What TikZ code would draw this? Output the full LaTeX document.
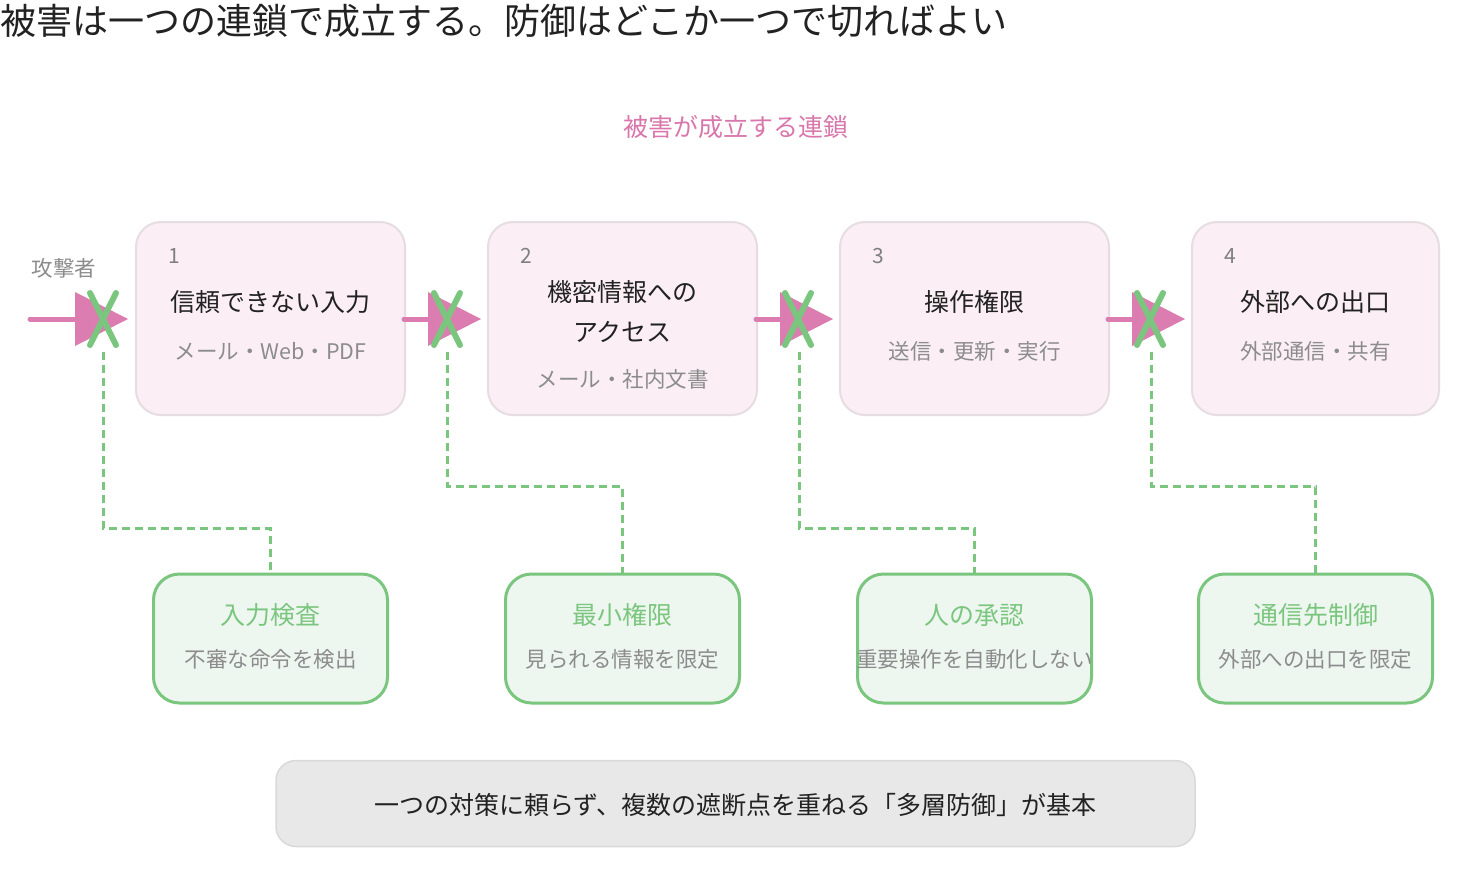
\documentclass[tikz,border=0pt]{standalone}
\usepackage{fontspec}
\setmainfont{Noto Sans CJK JP}
\usetikzlibrary{calc}
\definecolor{pinkc}{HTML}{DB7DB0}
\definecolor{pinktxt}{HTML}{D977AC}
\definecolor{greenc}{HTML}{7BC67E}
\definecolor{chainfill}{HTML}{FBEFF5}
\definecolor{chainborder}{HTML}{E6DDE2}
\definecolor{deffill}{HTML}{EEF6F0}
\definecolor{darktxt}{HTML}{222222}
\definecolor{graytxt}{HTML}{8C8C8C}
\definecolor{numtxt}{HTML}{7F7F7F}
\definecolor{botfill}{HTML}{E8E8E8}
\definecolor{botborder}{HTML}{D9D9D9}
\tikzset{
  chainbox/.style={draw=chainborder, line width=2pt, fill=chainfill, rounded corners=25pt, minimum height=193pt, inner sep=0pt},
  defbox/.style={draw=greenc, line width=3pt, fill=deffill, rounded corners=26pt, minimum width=234pt, minimum height=129pt, inner sep=0pt},
  botbox/.style={draw=botborder, line width=1.5pt, fill=botfill, rounded corners=20pt, minimum width=919pt, minimum height=86pt, inner sep=0pt},
  txt/.style={inner sep=0pt, anchor=center},
  maintxt/.style={txt, text=darktxt, font=\fontsize{25}{29}\selectfont},
  subtxt/.style={txt, text=graytxt, font=\fontsize{21.5}{25}\selectfont},
  numtxt/.style={inner sep=0pt, anchor=west, text=numtxt, font=\fontsize{21}{25}\selectfont},
  deftitle/.style={txt, text=greenc, font=\fontsize{25}{29}\selectfont},
  defsub/.style={txt, text=graytxt, font=\fontsize{21.5}{25}\selectfont},
  pinkline/.style={draw=pinkc, line width=5pt, line cap=round},
  xmark/.style={draw=greenc, line width=6pt, line cap=round},
  dashline/.style={draw=greenc, line width=3pt, dash pattern=on 8pt off 5pt},
}
\begin{document}
\begin{tikzpicture}[x=1pt,y=-1pt]
\useasboundingbox (0,0) rectangle (1472,884);
\fill[white] (0,0) rectangle (1472,884);

% title and subtitle
\node[inner sep=0pt, anchor=west, text=darktxt, font=\fontsize{36}{40}\selectfont] (title) at (0,21) {被害は一つの連鎖で成立する。防御はどこか一つで切ればよい};
\node[txt, text=pinktxt, font=\fontsize{25}{29}\selectfont] (sub) at (736,127) {被害が成立する連鎖};

% chain boxes
\node[chainbox, minimum width=269pt] (c1) at (270.5,318.5) {};
\node[chainbox, minimum width=269pt] (c2) at (622.5,318.5) {};
\node[chainbox, minimum width=269pt] (c3) at (974.5,318.5) {};
\node[chainbox, minimum width=247pt] (c4) at (1315.5,318.5) {};

\node[numtxt] (n1) at (168,256) {1};
\node[numtxt] (n2) at (520,256) {2};
\node[numtxt] (n3) at (872,256) {3};
\node[numtxt] (n4) at (1224,256) {4};

\node[maintxt] (m1) at (270.5,302) {信頼できない入力};
\node[subtxt] (s1) at (270.5,351) {メール・Web・PDF};
\node[maintxt] (m2a) at (622.5,292) {機密情報への};
\node[maintxt] (m2b) at (622.5,332) {アクセス};
\node[subtxt] (s2) at (622.5,379) {メール・社内文書};
\node[maintxt] (m3) at (974.5,302) {操作権限};
\node[subtxt] (s3) at (974.5,351) {送信・更新・実行};
\node[maintxt] (m4) at (1315.5,302) {外部への出口};
\node[subtxt] (s4) at (1315.5,351) {外部通信・共有};

% attacker
\node[txt, text=graytxt, font=\fontsize{21.5}{25}\selectfont] (att) at (64,268) {攻撃者};

% defense boxes
\node[defbox] (d1) at (270.5,638.5) {};
\node[defbox] (d2) at (622.5,638.5) {};
\node[defbox] (d3) at (974.5,638.5) {};
\node[defbox] (d4) at (1315.5,638.5) {};
\node[deftitle] (dt1) at (270.5,615) {入力検査};
\node[defsub] (ds1) at (270.5,659) {不審な命令を検出};
\node[deftitle] (dt2) at (622.5,615) {最小権限};
\node[defsub] (ds2) at (622.5,659) {見られる情報を限定};
\node[deftitle] (dt3) at (974.5,615) {人の承認};
\node[defsub] (ds3) at (974.5,659) {重要操作を自動化しない};
\node[deftitle] (dt4) at (1315.5,615) {通信先制御};
\node[defsub] (ds4) at (1315.5,659) {外部への出口を限定};

% arrows with cuts
\coordinate (start) at (30,319);
\coordinate (t1) at (75,319);
\coordinate (t2) at (428,319);
\coordinate (t3) at (780,319);
\coordinate (t4) at (1132,319);
\draw[pinkline] (start) -- (t1);
\draw[pinkline] ($(c1.east)+(-2,0.5)$) -- (t2);
\draw[pinkline] ($(c2.east)+(-2,0.5)$) -- (t3);
\draw[pinkline] ($(c3.east)+(-2,0.5)$) -- (t4);
\foreach \t in {t1,t2,t3,t4}{
  \fill[pinkc] ($(\t)+(0,-27)$) -- ($(\t)+(53,0)$) -- ($(\t)+(0,27)$) -- cycle;
}
\coordinate (x1) at (103,319);
\coordinate (x2) at (447,319);
\coordinate (x3) at (798,319);
\coordinate (x4) at (1150,319);
\foreach \x in {x1,x2,x3,x4}{
  \draw[xmark] ($(\x)+(-13,-26)$) -- ($(\x)+(13,26)$);
  \draw[xmark] ($(\x)+(13,-26)$) -- ($(\x)+(-13,26)$);
}

% dashed connectors
\coordinate (b1) at (103,352);
\coordinate (b2) at (447,352);
\coordinate (b3) at (799,352);
\coordinate (b4) at (1151,352);
\draw[dashline] (b1) |- ($(d1.north)+(0,-44)$) -- (d1.north);
\draw[dashline] (b2) |- ($(d2.north)+(0,-86)$) -- (d2.north);
\draw[dashline] (b3) |- ($(d3.north)+(0,-44)$) -- (d3.north);
\draw[dashline] (b4) |- ($(d4.north)+(0,-86)$) -- (d4.north);

% bottom
\node[botbox] (bot) at (735.5,803.5) {};
\node[txt, text=darktxt, font=\fontsize{25}{29}\selectfont] (bott) at (735.5,805) {一つの対策に頼らず、複数の遮断点を重ねる「多層防御」が基本};
\end{tikzpicture}
\end{document}
